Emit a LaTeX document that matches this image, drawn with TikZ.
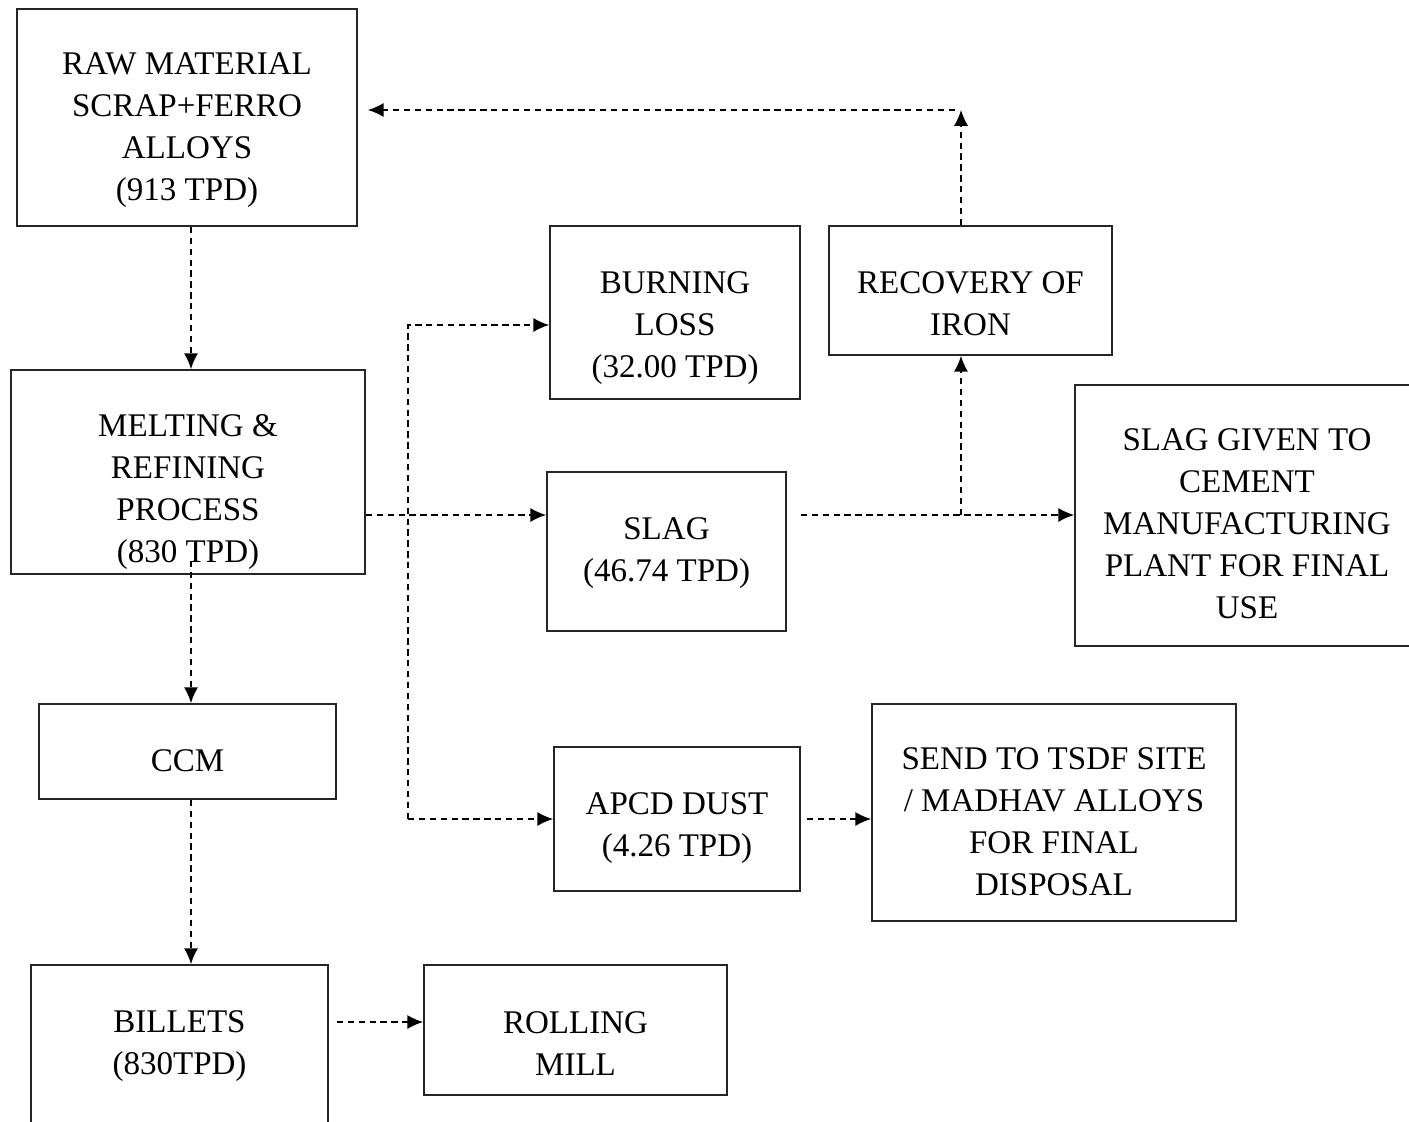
\documentclass[tikz,border=0pt]{standalone}
\usepackage{fontspec}
\setmainfont{Liberation Serif}
\usetikzlibrary{shapes}
\usetikzlibrary{arrows.meta}

\tikzset{
	box/.style = {draw = black!85,
				  line width = 1pt,
				  shape = rectangle,
				  inner sep = 0pt},
	txt/.style = {align = center,
				  inner sep = 0pt,
				  font = \fontsize{18.8}{23.9}\selectfont},
	flow/.style = {draw = black,
				   line width = 0.8pt,
				   dash pattern = on 3.6pt off 2.6pt,
				   -{Latex[length=9pt, width=8pt]}}
}

\begin{document}
\begin{tikzpicture}
	\clip (0,0) rectangle (28.18,-22.44);
	
	\draw (3.74,-2.35) node[box,
					 minimum width = 6.8cm,
					 minimum height = 4.34cm,
					 label = {[txt, yshift=-0.26cm]center:RAW MATERIAL\\SCRAP+FERRO\\ALLOYS\\(913 TPD)}](raw) {};
	\draw (3.76,-9.44) node[box,
					 minimum width = 7.08cm,
					 minimum height = 4.08cm,
					 label = {[txt, yshift=-0.40cm]center:MELTING \&\\REFINING\\PROCESS\\(830 TPD)}](melt) {};
	\draw (3.75,-15.03) node[box,
					 minimum width = 5.94cm,
					 minimum height = 1.9cm,
					 label = {[txt, yshift=-0.18cm]center:CCM}](ccm) {};
	\draw (3.59,-20.95) node[box,
					 minimum width = 5.94cm,
					 minimum height = 3.3cm,
					 label = {[txt, yshift=0.03cm]center:BILLETS\\(830TPD)}](billets) {};
	\draw (11.51,-20.6) node[box,
					 minimum width = 6.06cm,
					 minimum height = 2.6cm,
					 label = {[txt, yshift=-0.27cm]center:ROLLING\\MILL}](roll) {};
	
	\draw (13.5,-6.25) node[box,
					 minimum width = 5.0cm,
					 minimum height = 3.46cm,
					 label = {[txt, yshift=-0.32cm]center:BURNING\\LOSS\\(32.00 TPD)}](burn) {};
	\draw (13.33,-11.03) node[box,
					 minimum width = 4.78cm,
					 minimum height = 3.18cm,
					 label = {[txt, yshift=-0.04cm]center:SLAG\\(46.74 TPD)}](slag) {};
	\draw (13.54,-16.38) node[box,
					 minimum width = 4.92cm,
					 minimum height = 2.88cm,
					 label = {[txt, yshift=-0.19cm]center:APCD DUST\\(4.26 TPD)}](apcd) {};
	
	\draw (19.41,-5.81) node[box,
					 minimum width = 5.66cm,
					 minimum height = 2.58cm,
					 label = {[txt, yshift=-0.27cm]center:RECOVERY OF\\IRON}](recov) {};
	\draw (24.94,-10.31) node[box,
					 minimum width = 6.88cm,
					 minimum height = 5.22cm,
					 label = {[txt, yshift=-0.17cm]center:SLAG GIVEN TO\\CEMENT\\MANUFACTURING\\PLANT FOR FINAL\\USE}](cement) {};
	\draw (21.08,-16.25) node[box,
					 minimum width = 7.28cm,
					 minimum height = 4.34cm,
					 label = {[txt, yshift=-0.19cm]center:SEND TO TSDF SITE\\/ MADHAV ALLOYS\\FOR FINAL\\DISPOSAL}](tsdf) {};
	
	% helper points for the dashed lines
	\coordinate (spine) at (3.82,0);
	\coordinate (sl) at (0,-10.3);
	\coordinate (bus) at (8.16,0);
	\coordinate (top) at (19.22,-2.2);
	
	\draw[flow] (spine |- raw.south) -- (spine |- melt.north);
	\draw[flow] ([yshift=0.28cm]spine |- melt.south) -- (spine |- ccm.north);
	\draw[flow] (spine |- ccm.south) -- (spine |- billets.north);
	\draw[flow] ([xshift=0.16cm, yshift=0.16cm]billets.east |- roll.west) -- ([yshift=0.16cm]roll.west);
	
	\draw[flow] (melt.east |- sl) -- (slag.west |- sl);
	\draw[flow] (bus |- apcd.west) -- (apcd.west);
	\draw[flow] (bus |- apcd.west) |- ([yshift=-0.25cm]burn.west);
	\draw[flow] ([xshift=0.12cm]apcd.east) -- (apcd.east -| tsdf.west);
	
	\draw[flow] ([xshift=0.28cm]slag.east |- sl) -- (cement.west |- sl);
	\draw[flow] (top |- sl) -- (top |- recov.south);
	\draw[flow] (top |- recov.north) -- (top);
	\draw[flow] ([xshift=-0.12cm]top) -- ([xshift=0.2cm]raw.east |- top);
	
\end{tikzpicture}
\end{document}
